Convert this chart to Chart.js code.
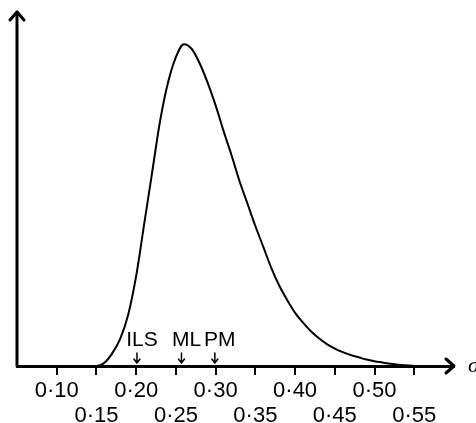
<!DOCTYPE html>
<html>
<head>
<meta charset="utf-8">
<script src="https://cdn.jsdelivr.net/npm/chart.js@4"></script>
<style>
  html, body { margin: 0; padding: 0; background: #fff; }
  #wrap { width: 476px; height: 423px; }
</style>
</head>
<body>
<div id="wrap"><canvas id="chart"></canvas></div>
<script>
// values (height normalised to 1 at the peak)
const sigma = [0.05, 0.10, 0.15, 0.16, 0.17, 0.18, 0.19, 0.20, 0.21, 0.22, 0.23, 0.24, 0.25, 0.26,
  0.27, 0.28, 0.29, 0.30, 0.31, 0.32, 0.33, 0.34, 0.35, 0.36, 0.37, 0.38, 0.39, 0.40, 0.41,
  0.42, 0.43, 0.44, 0.45, 0.46, 0.47, 0.48, 0.49, 0.50, 0.51, 0.52, 0.53, 0.54, 0.55, 0.60];
const density = [0, 0, 0, 0.01, 0.04, 0.085, 0.16, 0.28, 0.44, 0.60, 0.76, 0.88, 0.96, 1.0,
  0.985, 0.94, 0.88, 0.81, 0.73, 0.655, 0.575, 0.505, 0.435, 0.37, 0.305, 0.25, 0.205, 0.165, 0.135,
  0.108, 0.086, 0.068, 0.054, 0.043, 0.034, 0.027, 0.02, 0.015, 0.011, 0.007, 0.004, 0.002, 0, 0];
const tickValues = [0.10, 0.15, 0.20, 0.25, 0.30, 0.35, 0.40, 0.45, 0.50, 0.55];
const markerLabels = ['ILS', 'ML', 'PM'];
const markerSigma = [0.201, 0.257, 0.299];

const fmt = v => v.toFixed(2).replace('.', '\u00B7');

const axesPlugin = {
  id: 'axesExtras',
  afterDraw(chart) {
    const ctx = chart.ctx;
    const area = chart.chartArea;
    const xs = chart.scales.x;
    ctx.save();
    ctx.strokeStyle = '#000';
    ctx.fillStyle = '#000';
    ctx.lineCap = 'round';
    ctx.lineJoin = 'round';

    // y axis with arrow
    ctx.lineWidth = 3;
    ctx.beginPath();
    ctx.moveTo(area.left, area.bottom);
    ctx.lineTo(area.left, area.top);
    ctx.stroke();
    ctx.beginPath();
    ctx.moveTo(area.left - 7, area.top + 8);
    ctx.lineTo(area.left, area.top);
    ctx.lineTo(area.left + 7, area.top + 8);
    ctx.stroke();

    // x axis arrow head
    ctx.beginPath();
    ctx.moveTo(area.right - 8, area.bottom - 7);
    ctx.lineTo(area.right, area.bottom);
    ctx.lineTo(area.right - 8, area.bottom + 7);
    ctx.stroke();

    // sigma
    ctx.font = 'italic 22px "Liberation Serif"';
    ctx.textAlign = 'left';
    ctx.textBaseline = 'middle';
    ctx.fillText('\u03C3', area.right + 14, area.bottom);

    // ILS / ML / PM markers
    ctx.font = '21px "Liberation Sans"';
    ctx.textAlign = 'center';
    ctx.textBaseline = 'alphabetic';
    ctx.lineWidth = 1.5;
    markerLabels.forEach((lab, i) => {
      const px = xs.getPixelForValue(markerSigma[i]);
      ctx.fillText(lab, px + 5, area.bottom - 20);
      ctx.beginPath();
      ctx.moveTo(px, area.bottom - 13);
      ctx.lineTo(px, area.bottom - 3);
      ctx.moveTo(px - 3, area.bottom - 7);
      ctx.lineTo(px, area.bottom - 3);
      ctx.lineTo(px + 3, area.bottom - 7);
      ctx.stroke();
    });
    ctx.restore();
  }
};

new Chart(document.getElementById('chart'), {
  type: 'line',
  data: {
    datasets: [{
      data: sigma.map((s, i) => ({ x: s, y: density[i] })),
      borderColor: '#000',
      borderWidth: 2,
      pointRadius: 0,
      cubicInterpolationMode: 'monotone',
      fill: false
    }]
  },
  options: {
    responsive: true,
    maintainAspectRatio: false,
    animation: false,
    layout: { padding: { left: 17, right: 22, top: 12, bottom: 0 } },
    plugins: { legend: { display: false }, tooltip: { enabled: false } },
    scales: {
      x: {
        type: 'linear',
        min: 0.05,
        max: 0.6,
        afterBuildTicks: s => { s.ticks = tickValues.map(v => ({ value: v })); },
        afterFit: s => { s.height = 57; },
        border: { display: true, color: '#000', width: 3 },
        grid: { drawOnChartArea: false, drawTicks: true, tickLength: 9, color: '#000', lineWidth: 2 },
        ticks: {
          autoSkip: false,
          maxRotation: 0,
          padding: 3,
          color: '#000',
          font: { family: 'Liberation Sans', size: 22, lineHeight: 1.14 },
          callback: (v, i) => (i % 2 === 0 ? [fmt(v), ''] : ['', fmt(v)])
        }
      },
      y: { display: false, min: 0, max: 1.1 }
    }
  },
  plugins: [axesPlugin]
});
</script>
</body>
</html>
